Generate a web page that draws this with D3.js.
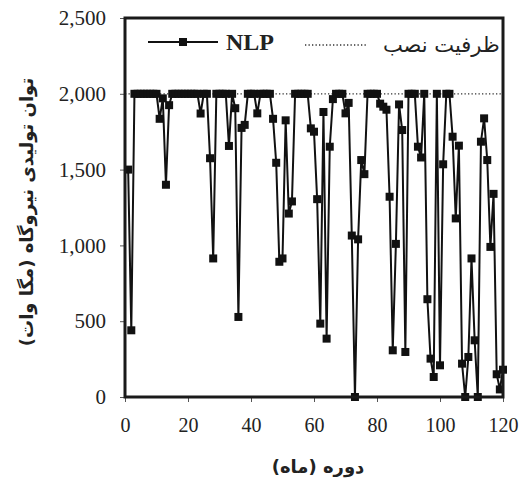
<!DOCTYPE html>
<html>
<head>
<meta charset="utf-8">
<script src="https://cdn.jsdelivr.net/npm/d3@7"></script>
<style>
  body { margin: 0; background: #fff; }
  svg { display: block; }
</style>
</head>
<body>
<svg id="chart" width="526" height="484"></svg>
<script>
// months 1..120, plant output (MW)
const months = d3.range(1, 121)
const nlp = [
  1500, 440, 2000, 2000, 2000, 2000, 2000, 2000, 2000, 2000,
  1835, 1970, 1400, 1925, 2000, 2000, 2000, 2000, 2000, 2000,
  2000, 2000, 2000, 1870, 2000, 2000, 1575, 914, 2000, 2000,
  2000, 2000, 1656, 2000, 1905, 528, 1775, 1795, 2000, 2000,
  2000, 1871, 2000, 2000, 2000, 2000, 1835, 1545, 892, 914,
  1825, 1210, 1290, 2000, 2000, 2000, 2000, 2000, 1772, 1750,
  1305, 484, 1880, 385, 1651, 1965, 2000, 2000, 2000, 1871,
  1940, 1065, 0, 1040, 1563, 1470, 2000, 2000, 2000, 2000,
  1935, 1915, 1895, 1321, 308, 1010, 1930, 1761, 297, 2000,
  2000, 2000, 1651, 1580, 2000, 645, 253, 132, 2000, 209,
  1535, 2000, 2000, 1717, 1178, 1658, 220, 0, 264, 914,
  374, 0, 1684, 1838, 1563, 990, 1340, 150, 50, 180
]
const capacity = 2000
const xTicks = [0, 20, 40, 60, 80, 100, 120]
const yTicks = [0, 500, 1000, 1500, 2000, 2500]
const seriesName = 'NLP'
const capacityName = 'ظرفیت نصب'
const xTitle = 'دوره (ماه)'
const yTitle = 'توان تولیدی نیروگاه (مگا وات)'

const data = months.map((m, i) => ({ month: m, value: nlp[i] }))

const svg = d3.select('#chart')
const plotL = 125, plotR = 503, plotT = 18, plotB = 397

const xScale = d3.scaleLinear().domain([0, 120]).range([plotL, plotR])
const yScale = d3.scaleLinear().domain([0, 2500]).range([plotB, plotT])

// capacity line (dotted)
svg.append('line')
  .attr('x1', xScale(0)).attr('x2', xScale(120))
  .attr('y1', yScale(capacity)).attr('y2', yScale(capacity))
  .style('stroke', '#333')
  .style('stroke-width', 1.3)
  .style('stroke-dasharray', '1.3 2.2')

const lineGen = d3.line()
  .x(d => xScale(d.month))
  .y(d => yScale(d.value))

svg.append('path')
  .datum(data)
  .attr('d', lineGen)
  .style('fill', 'none')
  .style('stroke', '#111')
  .style('stroke-width', 2)

const ms = 8
svg.append('g').selectAll('rect')
  .data(data)
  .join('rect')
  .attr('x', d => xScale(d.month) - ms / 2)
  .attr('y', d => yScale(d.value) - ms / 2)
  .attr('width', ms)
  .attr('height', ms)
  .style('fill', '#111')

// axes
const xAxis = d3.axisBottom(xScale)
  .tickValues(xTicks)
  .tickSize(5)
  .tickPadding(16)
  .tickSizeOuter(0)

const yAxis = d3.axisLeft(yScale)
  .tickValues(yTicks)
  .tickSize(5)
  .tickPadding(14)
  .tickSizeOuter(0)
  .tickFormat(d3.format(','))

function styleAxis (g, size) {
  g.select('.domain').remove()
  g.selectAll('.tick line').style('stroke', '#555')
  g.selectAll('.tick text')
    .style('font-family', "'Liberation Serif', 'Times New Roman', serif")
    .style('font-size', size)
    .style('fill', '#222')
}

svg.append('g')
  .attr('transform', `translate(0,${plotB})`)
  .call(xAxis)
  .call(styleAxis, '20px')

svg.append('g')
  .attr('transform', `translate(${plotL},0)`)
  .call(yAxis)
  .call(styleAxis, '21px')

// plot frame
svg.append('rect')
  .attr('x', plotL).attr('y', plotT)
  .attr('width', plotR - plotL).attr('height', plotB - plotT)
  .style('fill', 'none')
  .style('stroke', '#1a1a1a')
  .style('stroke-width', 3)

// legend
const lg = svg.append('g')
lg.append('line')
  .attr('x1', 148).attr('x2', 218).attr('y1', 42).attr('y2', 42)
  .style('stroke', '#111').style('stroke-width', 2)
lg.append('rect')
  .attr('x', 183 - ms / 2).attr('y', 42 - ms / 2)
  .attr('width', ms).attr('height', ms)
  .style('fill', '#111')
lg.append('text')
  .attr('x', 226).attr('y', 50)
  .text(seriesName)
  .style('font-family', "'Liberation Serif', 'Times New Roman', serif")
  .style('font-weight', 'bold')
  .style('font-size', '24px')
  .style('fill', '#222')
lg.append('line')
  .attr('x1', 305).attr('x2', 366).attr('y1', 45).attr('y2', 45)
  .style('stroke', '#333')
  .style('stroke-width', 1.3)
  .style('stroke-dasharray', '1.3 2.2')
lg.append('text')
  .attr('x', 383).attr('y', 52)
  .text(capacityName)
  .style('font-family', "'DejaVu Sans', sans-serif")
  .style('font-size', '21px')
  .style('fill', '#222')

// titles
svg.append('text')
  .attr('transform', 'translate(33,212) rotate(-90)')
  .attr('text-anchor', 'middle')
  .text(yTitle)
  .style('font-family', "'DejaVu Sans', sans-serif")
  .style('font-weight', 'bold')
  .style('font-size', '18px')
  .style('fill', '#222')

svg.append('text')
  .attr('x', 318).attr('y', 473)
  .attr('text-anchor', 'middle')
  .text(xTitle)
  .style('font-family', "'DejaVu Sans', sans-serif")
  .style('font-weight', 'bold')
  .style('font-size', '18px')
  .style('fill', '#222')
</script>
</body>
</html>
